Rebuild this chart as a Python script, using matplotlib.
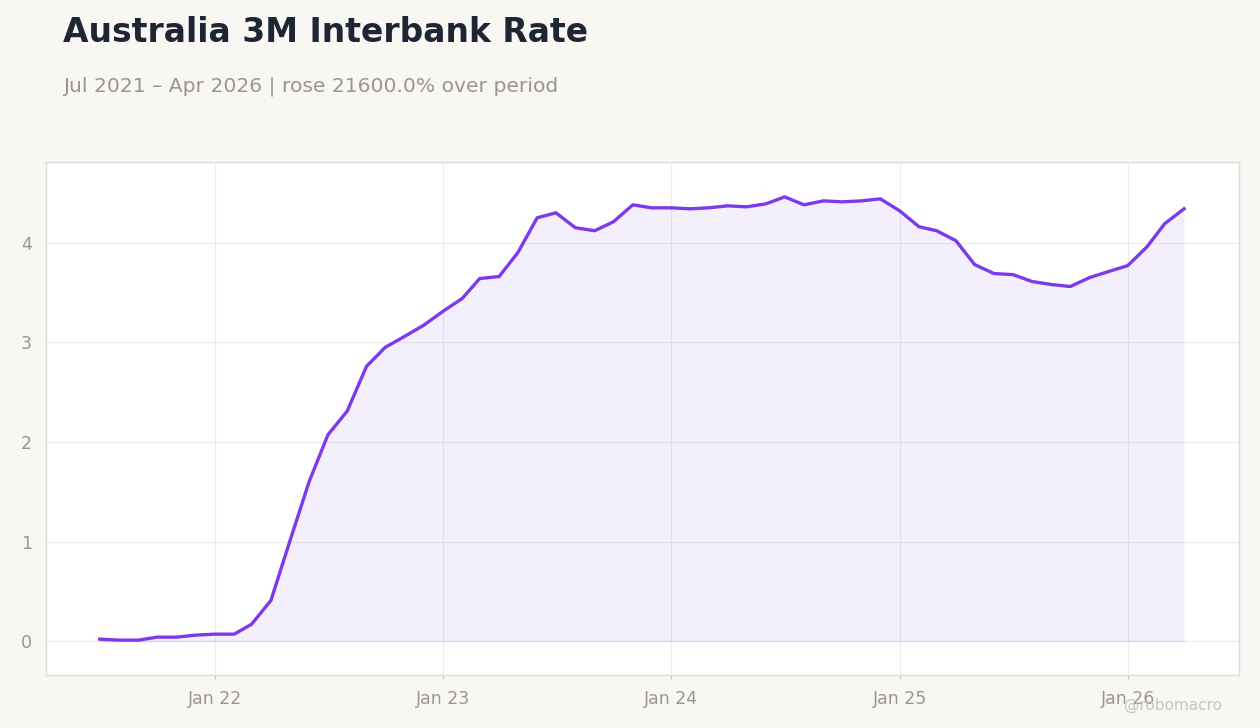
import numpy as np
import pandas as pd
import matplotlib
matplotlib.use("Agg")
import matplotlib.pyplot as plt
import matplotlib.dates as mdates

# monthly 3M interbank rate, Jul 2021 - Apr 2026
months = pd.date_range("2021-07-01", "2026-04-01", freq="MS")
rate = [0.02, 0.01, 0.01, 0.04, 0.04, 0.06, 0.07, 0.07, 0.17, 0.41, 1.00, 1.60,
        2.07, 2.31, 2.76, 2.95, 3.06, 3.17, 3.31, 3.44, 3.64, 3.66, 3.90, 4.25,
        4.30, 4.15, 4.12, 4.21, 4.38, 4.35, 4.35, 4.34, 4.35, 4.37, 4.36, 4.39,
        4.46, 4.38, 4.42, 4.41, 4.42, 4.44, 4.32, 4.16, 4.12, 4.02, 3.78, 3.69,
        3.68, 3.61, 3.58, 3.56, 3.65, 3.71, 3.77, 3.96, 4.19, 4.34]

tick_dates = pd.to_datetime(["2022-01-01", "2023-01-01", "2024-01-01", "2025-01-01", "2026-01-01"])
tick_labels = ["Jan 22", "Jan 23", "Jan 24", "Jan 25", "Jan 26"]

title = "Australia 3M Interbank Rate"
change = (rate[-1] / rate[0] - 1) * 100
subtitle = f"Jul 2021 \u2013 Apr 2026 | rose {change:.1f}% over period"

bg = "#f8f7f4"
purple = "#7c3aed"
grey = "#9a9590"

fig = plt.figure(figsize=(12.6, 7.28), dpi=100, facecolor=bg)
ax = fig.add_axes([46 / 1260, 1 - 675 / 728, (1239 - 46) / 1260, (675 - 162) / 728])
ax.set_facecolor("white")

ax.fill_between(months, rate, 0, color=purple, alpha=0.08, linewidth=0)
ax.plot(months, [0] * len(months), color=purple, alpha=0.12, linewidth=1)
ax.plot(months, rate, color=purple, linewidth=2.4, solid_joinstyle="round")

ax.set_xlim(pd.Timestamp("2021-04-06"), pd.Timestamp("2026-06-28"))
ax.set_ylim(-0.34, 4.81)
ax.set_xticks(tick_dates)
ax.set_xticklabels(tick_labels)
ax.set_yticks([0, 1, 2, 3, 4])

ax.grid(True, color="#ececec", linewidth=0.8)
ax.set_axisbelow(True)
ax.tick_params(axis="x", colors="#c8c4bd", labelcolor=grey, labelsize=12.5, length=3, pad=8)
ax.tick_params(axis="y", length=0, labelcolor=grey, labelsize=12.5, pad=10)
for s in ax.spines.values():
    s.set_color("#e0dcd5")
    s.set_linewidth(1)

fig.text(63 / 1260, 1 - 32 / 728, title, fontsize=23.8, fontweight="bold", color="#1e2533", va="center")
fig.text(63 / 1260, 1 - 86 / 728, subtitle, fontsize=14.6, color=grey, va="center")
fig.text(1222 / 1260, 1 - 705 / 728, "@robomacro", fontsize=11, color="#c8c5c0", ha="right", va="center")

fig.savefig("out.png", dpi=100, facecolor=bg)
